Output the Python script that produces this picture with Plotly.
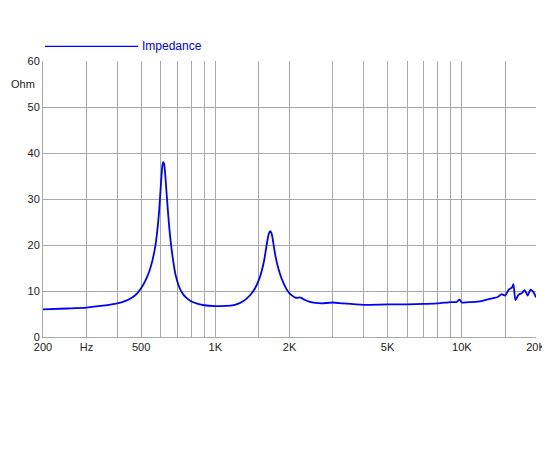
import plotly.graph_objects as go

freq = [200,250,300,350,400,430,460,480,500,520,540,555,570,580,590,598,605,610,615,620,625,632,640,650,660,675,690,710,730,760,800,850,900,1000,1100,1200,1250,1300,1350,1400,1450,1500,1540,1580,1610,1630,1650,1670,1690,1710,1730,1760,1800,1850,1900,1950,2000,2050,2100,2150,2200,2250,2300,2400,2550,2700,3000,3300,4000,5000,6000,7000,8000,9000,9500,9800,10000,11000,12000,13000,14000,14500,15000,15500,16000,16200,16500,17000,17500,18000,18500,19000,19500,20000]
ohm = [6.0,6.2,6.4,6.8,7.3,7.8,8.6,9.4,10.6,12.2,14.3,16.5,19.5,22.5,26.5,31,35,37.3,38,37.6,36,32.5,28.5,24,20.5,16.5,13.5,11.2,9.8,8.6,7.7,7.2,6.9,6.7,6.75,7.0,7.3,7.8,8.5,9.4,10.6,12.3,14.2,16.8,19.5,21.2,22.5,23,22.6,21.3,19.5,17.2,15,13,11.5,10.3,9.5,9,8.6,8.5,8.6,8.4,8.1,7.7,7.4,7.3,7.5,7.3,7.0,7.1,7.1,7.2,7.3,7.6,7.6,8.1,7.5,7.6,7.8,8.3,8.7,9.3,9.0,10.3,10.8,11.5,8.0,9.2,9.5,10.2,9.0,10.3,9.8,8.6]

grid_vals = [200,300,400,500,600,700,800,900,1000,1500,2000,3000,4000,5000,6000,7000,8000,9000,10000,15000,20000]
label_map = {200:"200",300:"Hz",500:"500",1000:"1K",2000:"2K",5000:"5K",10000:"10K",20000:"20K"}
tick_text = [label_map.get(v, "") for v in grid_vals]
y_ticks = [0,10,20,30,40,50,60]

fig = go.Figure(go.Scatter(x=freq, y=ohm, mode="lines", line=dict(color="#0000ff", width=1.8, shape="spline", smoothing=0.6), showlegend=False))
fig.update_layout(
    width=550, height=450, margin=dict(l=35, r=22, t=53, b=121),
    plot_bgcolor="white", paper_bgcolor="white",
    font=dict(family="Liberation Sans, Arial", size=11, color="#222"),
    xaxis=dict(type="log", range=[2.30103, 4.30103], tickvals=grid_vals, ticktext=tick_text, automargin=False,
               showgrid=True, gridcolor="#a8a8a8", gridwidth=1.2, zeroline=False,
               showline=True, linecolor="#a8a8a8", ticks="", tickfont=dict(size=11)),
    yaxis=dict(range=[0, 60], tickvals=y_ticks, showgrid=True, gridcolor="#a8a8a8", gridwidth=1.2, automargin=False,
               zeroline=False, showline=True, linecolor="#a8a8a8", ticks="", tickfont=dict(size=11)),
    shapes=[dict(type="line", xref="paper", yref="paper", x0=0.004, x1=0.193, y0=1.053, y1=1.053,
                 line=dict(color="#0000ff", width=1.2))],
    annotations=[
        dict(text="Impedance", xref="paper", yref="paper", x=0.197, y=1.053, xanchor="left", yanchor="middle",
             showarrow=False, font=dict(color="#0000ff", size=12)),
        dict(text="Ohm", xref="paper", yref="paper", x=-0.012, y=0.915, xanchor="right", yanchor="middle",
             showarrow=False, font=dict(size=11)),
    ],
)
fig.write_html("out.html")
